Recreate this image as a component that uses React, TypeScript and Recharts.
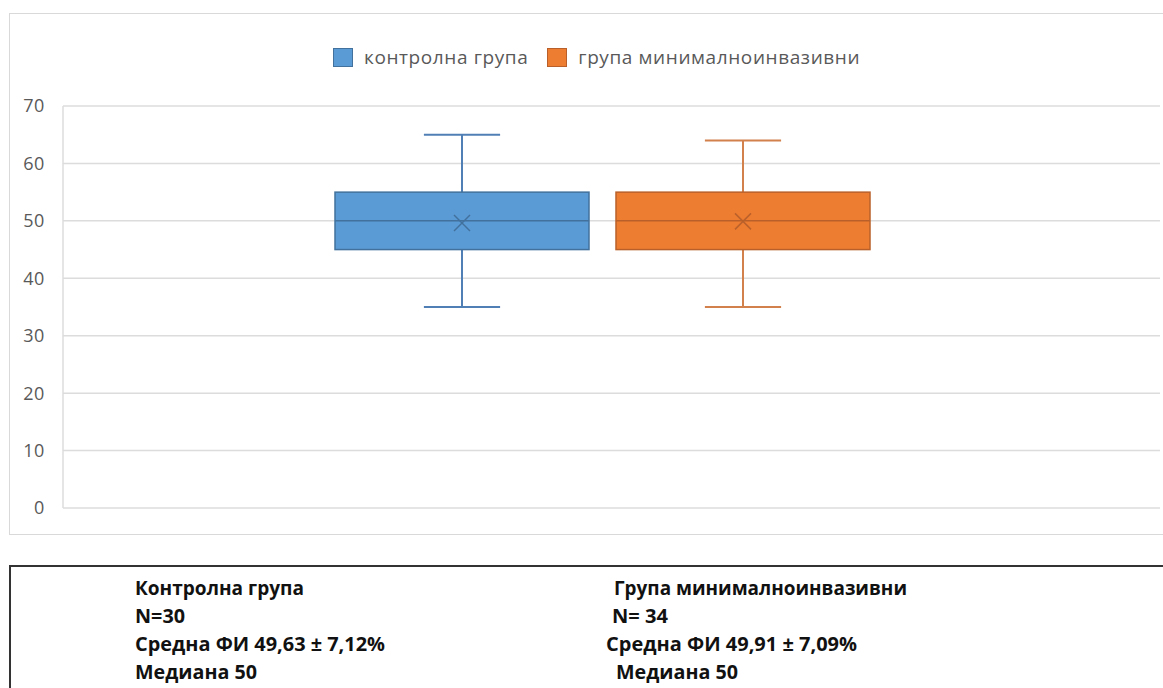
import { Bar, CartesianGrid, ComposedChart, Legend, XAxis, YAxis } from "recharts";

// box-and-whisker stats, one entry per group
const groups = ["контролна група", "група минималноинвазивни"];
const minValues = [35, 35];
const q1Values = [45, 45];
const medianValues = [50, 50];
const q3Values = [55, 55];
const maxValues = [65, 64];
const meanValues = [49.63, 49.91];
const yTicks = [0, 10, 20, 30, 40, 50, 60, 70];

const fills = ["#5B9BD5", "#ED7D31"];
const edges = ["#41719C", "#B9602A"];
const whiskers = ["#4F7FB5", "#D2804C"];

// summary lines under the chart
const leftLines = ["Контролна група", "N=30", "Средна ФИ 49,63 ± 7,12%", "Медиана 50"];
const rightLines = ["Група минималноинвазивни", "N= 34", "Средна ФИ 49,91 ± 7,09%", "Медиана 50"];
const leftWidths = [169, 50, 250, 122];
const rightWidths = [293, 56, 251, 122];
const rightX = [614, 612, 606, 616];

const rows = [
  {
    name: "ФИ",
    ...Object.fromEntries(groups.map((_, i) => [`g${i}`, [minValues[i], maxValues[i]]])),
  },
];

const FONT = "'Open Sans', 'Noto Sans', sans-serif";

function BoxWhisker(props: any) {
  const { x, y, width, height, g } = props;
  const top = Math.min(y, y + height);
  const h = Math.abs(height);
  const per = h / (maxValues[g] - minValues[g]);
  const yOf = (v: number) => top + (maxValues[g] - v) * per;
  const cx = x + width / 2;
  const cap = width * 0.15;
  const yMax = yOf(maxValues[g]);
  const yMin = yOf(minValues[g]);
  const yQ1 = yOf(q1Values[g]);
  const yQ3 = yOf(q3Values[g]);
  const yMed = yOf(medianValues[g]);
  const yMean = yOf(meanValues[g]);
  return (
    <g>
      <line x1={cx} x2={cx} y1={yMax} y2={yQ3} stroke={whiskers[g]} strokeWidth={2} />
      <line x1={cx} x2={cx} y1={yQ1} y2={yMin} stroke={whiskers[g]} strokeWidth={2} />
      <line x1={cx - cap} x2={cx + cap} y1={yMax} y2={yMax} stroke={whiskers[g]} strokeWidth={2} />
      <line x1={cx - cap} x2={cx + cap} y1={yMin} y2={yMin} stroke={whiskers[g]} strokeWidth={2} />
      <rect x={x} y={yQ3} width={width} height={yQ1 - yQ3} fill={fills[g]} stroke={edges[g]} strokeWidth={1.5} />
      <line x1={x} x2={x + width} y1={yMed} y2={yMed} stroke={edges[g]} strokeWidth={1.5} />
      <line x1={cx - 8} x2={cx + 8} y1={yMean - 8} y2={yMean + 8} stroke={edges[g]} strokeWidth={1.5} />
      <line x1={cx - 8} x2={cx + 8} y1={yMean + 8} y2={yMean - 8} stroke={edges[g]} strokeWidth={1.5} />
    </g>
  );
}

function LegendRow() {
  return (
    <div
      style={{
        display: "flex",
        alignItems: "center",
        marginLeft: 333,
        fontFamily: FONT,
        fontSize: 19,
        letterSpacing: 0.6,
        color: "#595959",
      }}
    >
      {groups.map((name, i) => (
        <div key={name} style={{ display: "flex", alignItems: "center", marginRight: 19 }}>
          <span
            style={{
              display: "inline-block",
              width: 18,
              height: 17,
              background: fills[i],
              border: `1px solid ${edges[i]}`,
            }}
          />
          <span style={{ marginLeft: 11 }}>{name}</span>
        </div>
      ))}
    </div>
  );
}

export default function App() {
  return (
    <div style={{ position: "absolute", left: 0, top: 0, width: 1163, height: 688, background: "#fff" }}>
      <svg width={1163} height={688} style={{ position: "absolute", left: 0, top: 0 }}>
        <rect x={9.5} y={13.5} width={1170} height={521} fill="none" stroke="#D9D9D9" strokeWidth={1} />
        <line x1={9} x2={1163} y1={566} y2={566} stroke="#333" strokeWidth={2} />
        <line x1={10} x2={10} y1={566} y2={688} stroke="#333" strokeWidth={2} />
        {leftLines.map((t, i) => (
          <text
            key={"l" + i}
            x={135}
            y={595 + i * 28}
            fontFamily={FONT}
            fontWeight={700}
            fontSize={19}
            fill="#111"
            textLength={leftWidths[i]}
            lengthAdjust="spacingAndGlyphs"
          >
            {t}
          </text>
        ))}
        {rightLines.map((t, i) => (
          <text
            key={"r" + i}
            x={rightX[i]}
            y={595 + i * 28}
            fontFamily={FONT}
            fontWeight={700}
            fontSize={19}
            fill="#111"
            textLength={rightWidths[i]}
            lengthAdjust="spacingAndGlyphs"
          >
            {t}
          </text>
        ))}
      </svg>
      <div style={{ position: "absolute", left: 0, top: 0 }}>
        <ComposedChart
          width={1163}
          height={540}
          data={rows}
          margin={{ top: 106, right: 3, bottom: 32, left: 0 }}
          barSize={254}
          barGap={27}
        >
          <CartesianGrid vertical={false} stroke="#DCDCDC" strokeWidth={1.5} />
          <XAxis dataKey="name" hide padding={{ left: 0, right: 18 }} />
          <YAxis
            domain={[0, 70]}
            ticks={yTicks}
            width={63}
            axisLine={{ stroke: "#DCDCDC", strokeWidth: 1.5 }}
            tickLine={false}
            tickMargin={12}
            tick={{ fontSize: 18, fontFamily: FONT, fill: "#595959", letterSpacing: 0.6 }}
          />
          <Legend
            layout="horizontal"
            verticalAlign="middle"
            align="center"
            wrapperStyle={{ top: 44, left: 0, width: 1163 }}
            content={() => <LegendRow />}
          />
          {groups.map((name, i) => (
            <Bar
              key={name}
              dataKey={`g${i}`}
              name={name}
              isAnimationActive={false}
              shape={(p: any) => <BoxWhisker {...p} g={i} />}
            />
          ))}
        </ComposedChart>
      </div>
    </div>
  );
}
